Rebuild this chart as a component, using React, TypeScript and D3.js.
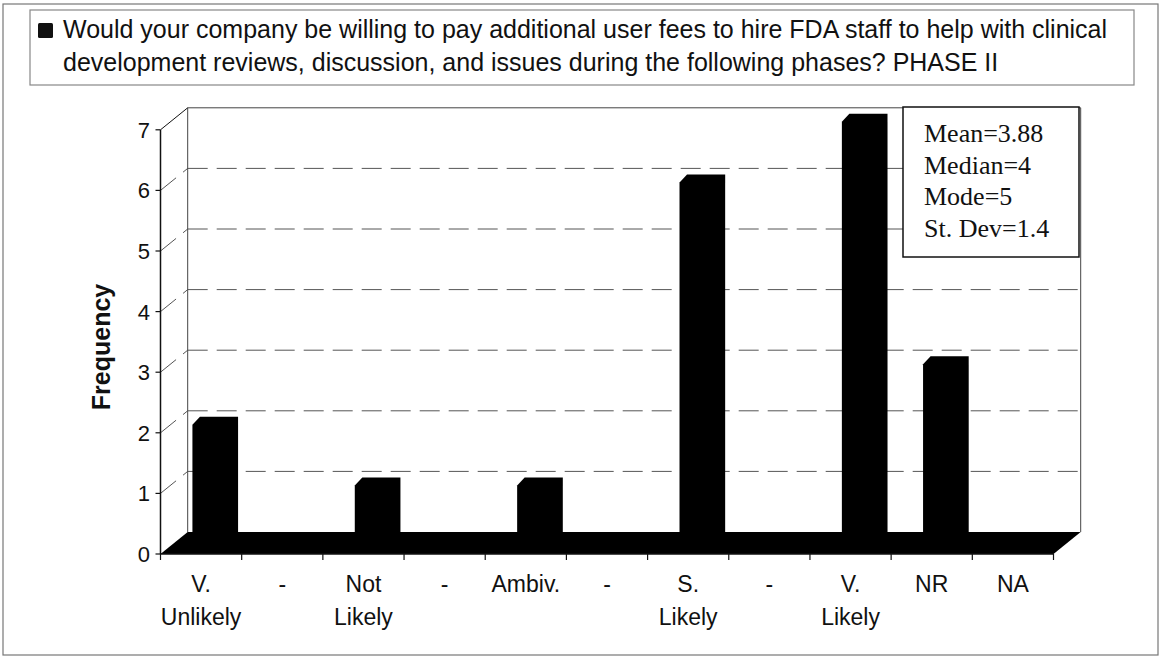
import React from 'react';
import * as d3 from 'd3';

// chart data
const titleLines = [
  'Would your company be willing to pay additional user fees to hire FDA staff to help with clinical',
  'development reviews, discussion, and issues during the following phases? PHASE II',
];
const categoryLabels = [
  ['V.', 'Unlikely'], ['-'], ['Not', 'Likely'], ['-'], ['Ambiv.'], ['-'],
  ['S.', 'Likely'], ['-'], ['V.', 'Likely'], ['NR'], ['NA'],
];
const frequency = [2, 0, 1, 0, 1, 0, 6, 0, 7, 3, 0];
const yTicks = [0, 1, 2, 3, 4, 5, 6, 7];
const statLines = ['Mean=3.88', 'Median=4', 'Mode=5', 'St. Dev=1.4'];
const yLabel = 'Frequency';

const W = 1161;
const H = 659;
const sans = '"Liberation Sans", Arial, sans-serif';
const serif = '"Liberation Serif", "Times New Roman", serif';

// fake 3d: depth vector of the floor / walls
const DEPTH = { dx: 27.2, dy: -22 };
const BAR_FRONT = { dx: 10, dy: -8 };
const BAR_BACK = { dx: 17.5, dy: -16 };

export default function App() {
  const x = d3.scaleBand<number>()
    .domain(d3.range(categoryLabels.length))
    .range([160.5, 1053.5])
    .padding(0);
  const y = d3.scaleLinear().domain([0, 7]).range([554, 129.8]);

  const step = x.step();
  const x0 = x.range()[0];
  const x1 = x.range()[1];
  const y0 = y(0);
  const yMax = y(7);

  const backL = x0 + DEPTH.dx;
  const backR = x1 + DEPTH.dx;

  const floor = [
    [x0, y0], [x1, y0], [backR, y0 + DEPTH.dy], [backL, y0 + DEPTH.dy],
  ];
  const line = d3.line();

  const barPath = (i: number, v: number) => {
    const bx = (x(i) as number) + step * 0.27;
    const bw = step * 0.47;
    const top = y(v);
    const pts: [number, number][] = [
      [bx + BAR_FRONT.dx, y0 + BAR_FRONT.dy],
      [bx + BAR_FRONT.dx, top + BAR_FRONT.dy],
      [bx + BAR_BACK.dx, top + BAR_BACK.dy],
      [bx + bw + BAR_BACK.dx, top + BAR_BACK.dy],
      [bx + bw + BAR_BACK.dx, y0 + BAR_BACK.dy],
    ];
    return line(pts) + 'Z';
  };

  const boundaries = d3.range(categoryLabels.length + 1).map(i => x0 + i * step);

  return (
    <svg width={W} height={H} style={{ position: 'absolute', left: 0, top: 0, background: '#fff' }}>
      {/* outer frame */}
      <rect x={3} y={4} width={1155} height={651} fill="none" stroke="#777" strokeWidth={1.2} />

      {/* title / legend box */}
      <rect x={30} y={10} width={1104} height={75} fill="#fff" stroke="#888" strokeWidth={1.2} />
      <rect x={38} y={23} width={15} height={15} fill="#111" rx={1.5} />
      {titleLines.map((t, i) => (
        <text key={i} x={63} y={38 + i * 33} fontFamily={sans} fontSize={25} fill="#111">{t}</text>
      ))}

      {/* back wall gridlines */}
      {yTicks.filter(t => t > 0 && t < 7).map(t => (
        <g key={t} stroke="#555" strokeWidth={1} strokeDasharray="20 9" fill="none">
          <line x1={backL} x2={backR} y1={y(t) + DEPTH.dy} y2={y(t) + DEPTH.dy} />
          <line x1={x0} y1={y(t)} x2={backL} y2={y(t) + DEPTH.dy} />
        </g>
      ))}
      {/* wall edges */}
      <g stroke="#444" strokeWidth={1} fill="none">
        <line x1={backL} x2={backR} y1={yMax + DEPTH.dy} y2={yMax + DEPTH.dy} />
        <line x1={backL} x2={backL} y1={yMax + DEPTH.dy} y2={y0 + DEPTH.dy} />
        <line x1={backR} x2={backR} y1={yMax + DEPTH.dy} y2={y0 + DEPTH.dy} />
        <line x1={x0} y1={yMax} x2={backL} y2={yMax + DEPTH.dy} stroke="#111" />
      </g>

      {/* bars */}
      {frequency.map((v, i) => (
        <path key={i} d={barPath(i, v)} fill="#000" />
      ))}

      {/* floor */}
      <path d={line(floor as [number, number][]) + 'Z'} fill="#000" />

      {/* y axis */}
      <line x1={x0} x2={x0} y1={y0} y2={yMax} stroke="#111" strokeWidth={1.5} />
      {yTicks.map(t => (
        <g key={t}>
          <line x1={x0 - 5} x2={x0} y1={y(t)} y2={y(t)} stroke="#111" strokeWidth={1.2} />
          <text x={150} y={y(t)} dy="0.36em" textAnchor="end" fontFamily={sans} fontSize={22} fill="#111">{t}</text>
        </g>
      ))}
      <text transform={`translate(110,347) rotate(-90)`} textAnchor="middle" fontFamily={sans}
        fontWeight="bold" fontSize={25} fill="#111">{yLabel}</text>

      {/* x axis */}
      <line x1={x0} x2={x1} y1={y0} y2={y0} stroke="#111" strokeWidth={1.5} />
      {boundaries.map((bx, i) => (
        <line key={i} x1={bx} x2={bx} y1={y0} y2={y0 + 6} stroke="#111" strokeWidth={1.2} />
      ))}
      {categoryLabels.map((lines, i) => (
        <text key={i} textAnchor="middle" fontFamily={sans} fontSize={23} fill="#111">
          {lines.map((l, j) => (
            <tspan key={j} x={(x(i) as number) + step / 2} y={592 + j * 33}>{l}</tspan>
          ))}
        </text>
      ))}

      {/* stats box */}
      <rect x={903} y={107} width={176} height={150} fill="#fff" stroke="#111" strokeWidth={1.5} />
      {statLines.map((s, i) => (
        <text key={i} x={924} y={142 + i * 31.7} fontFamily={serif} fontSize={26} fill="#111">{s}</text>
      ))}
    </svg>
  );
}
